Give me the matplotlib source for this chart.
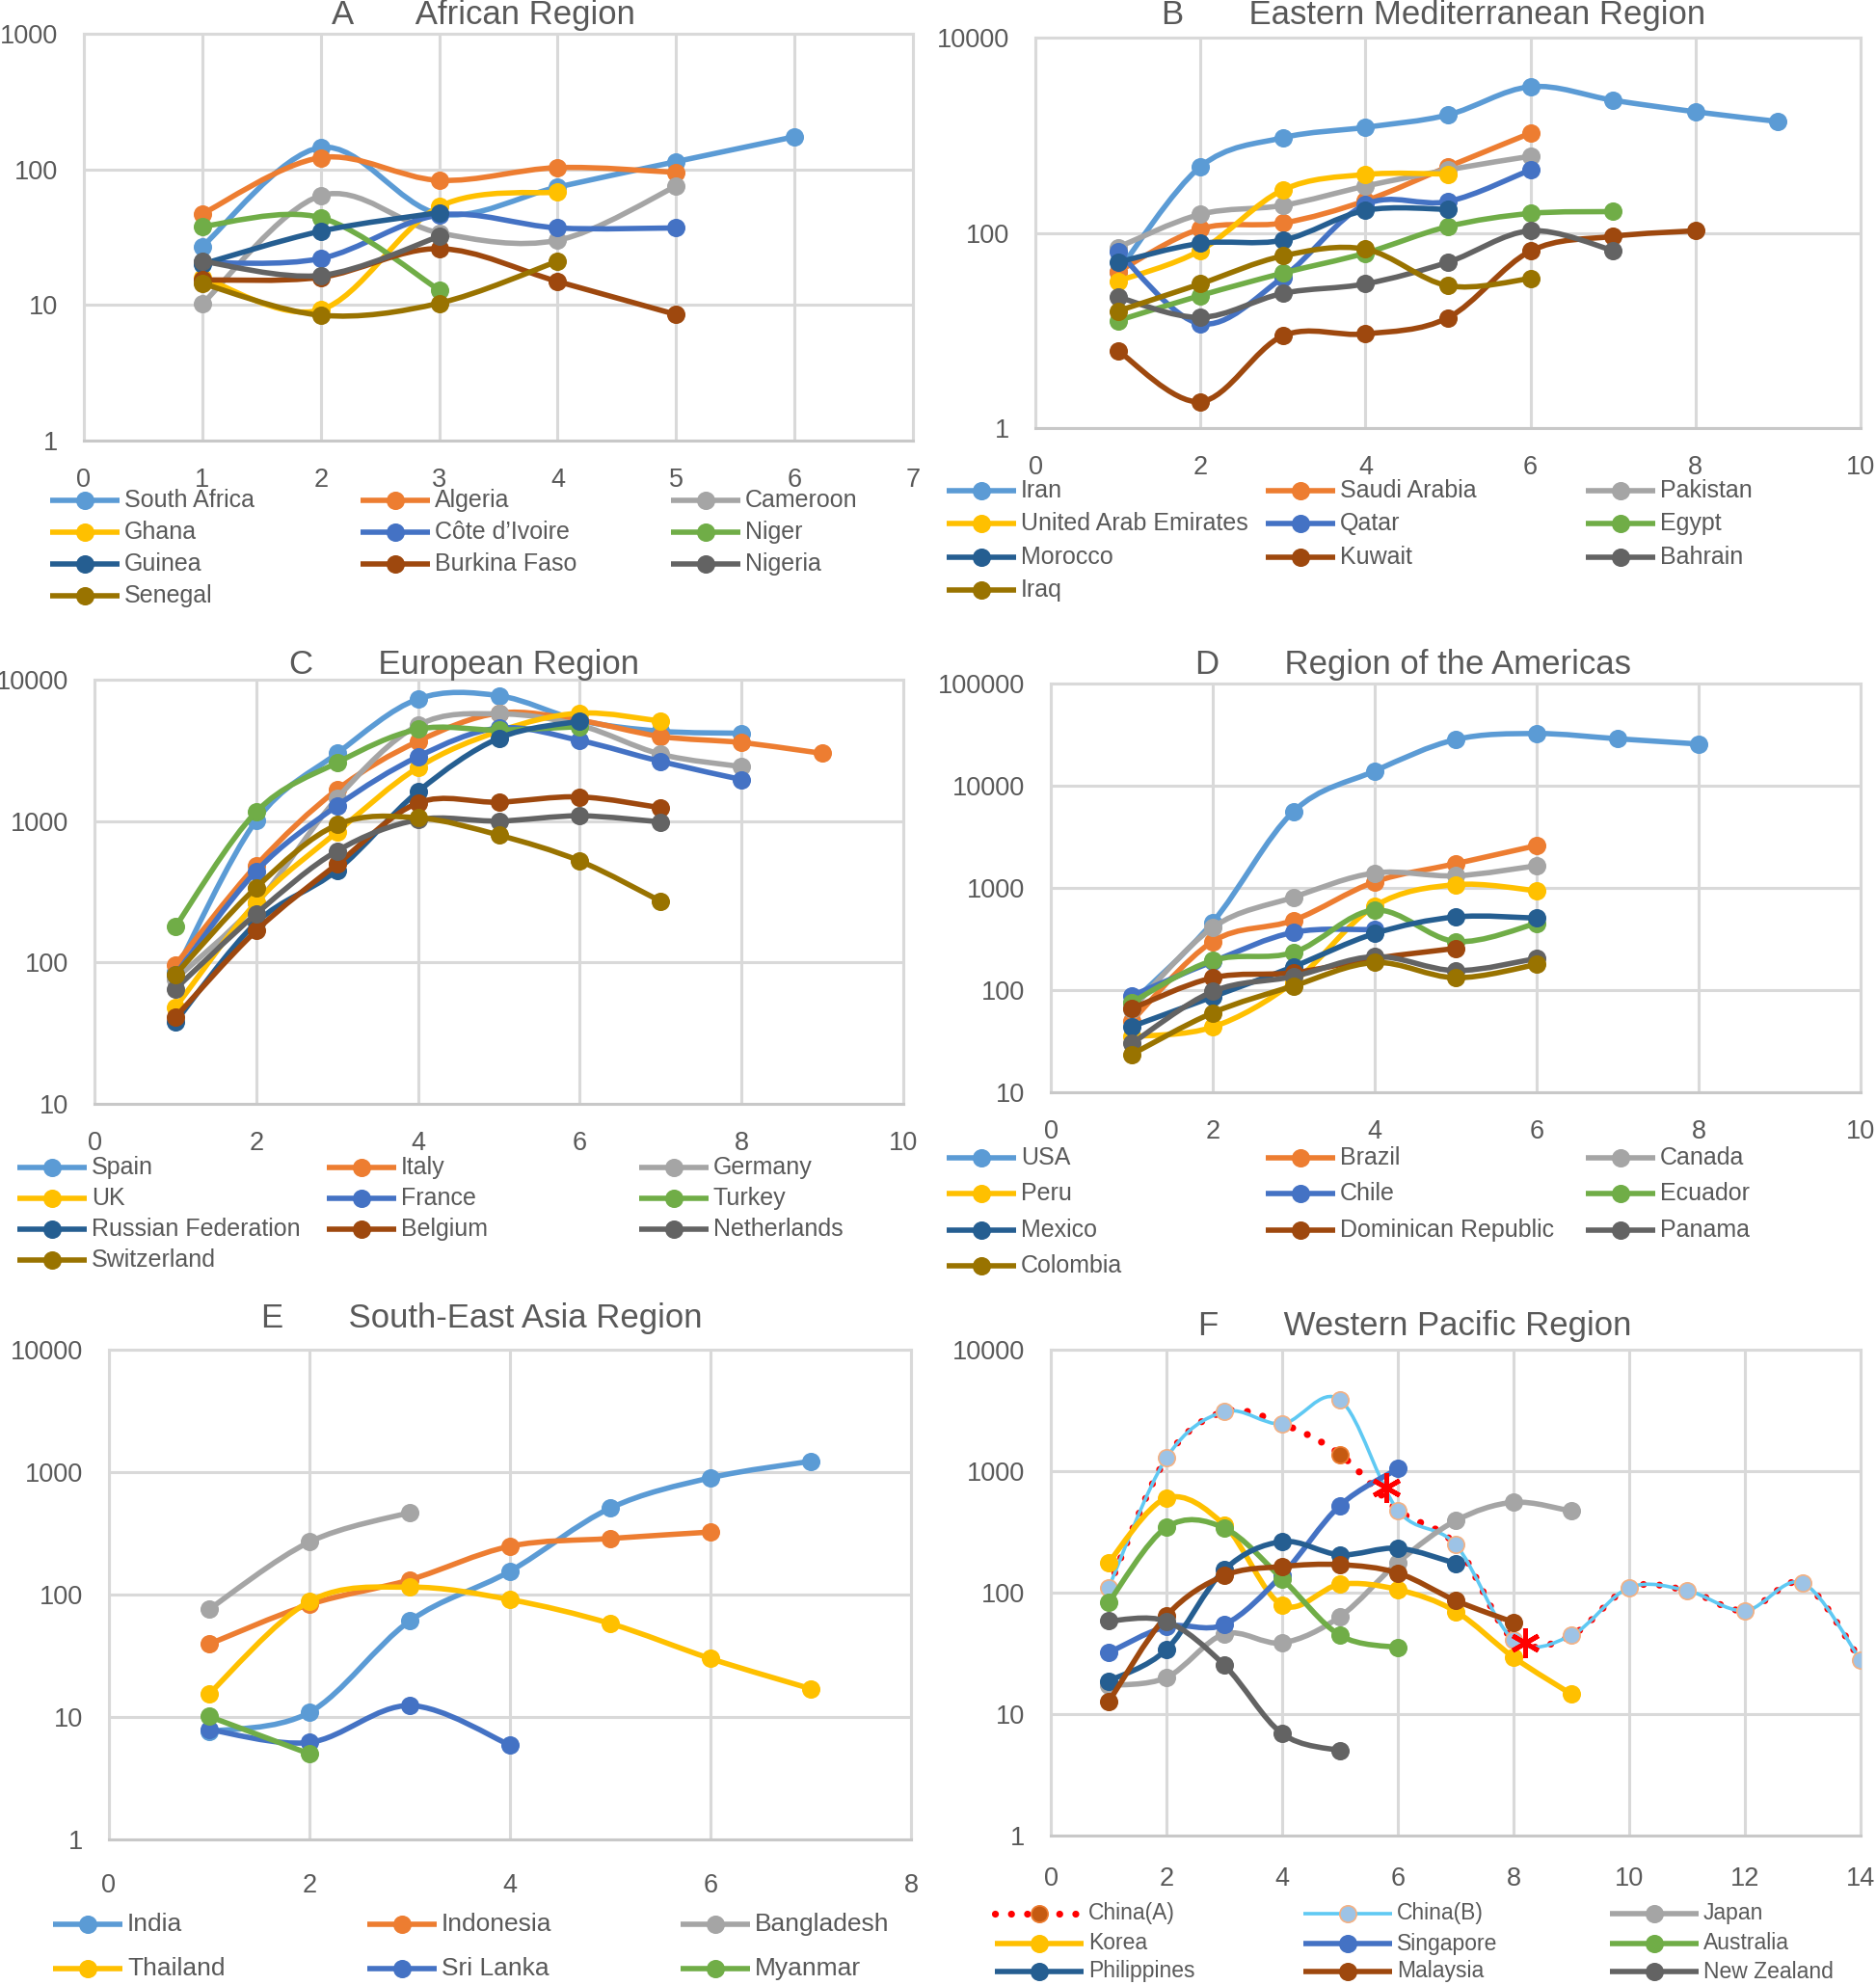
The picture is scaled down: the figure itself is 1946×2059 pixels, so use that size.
"""
Six-panel weekly case curves by WHO region (log scale), Excel-style smooth lines.
"""

import numpy as np
import matplotlib
matplotlib.use("Agg")
import matplotlib.pyplot as plt
from matplotlib import font_manager
from matplotlib.lines import Line2D
from matplotlib.path import Path
from matplotlib.patches import PathPatch

# ── Fonts / colours ─────────────────────────────────────────────────────────────
_names = {f.name for f in font_manager.fontManager.ttflist}
FONT = "Liberation Sans Narrow" if "Liberation Sans Narrow" in _names else "Liberation Sans"
plt.rcParams["font.family"] = [FONT, "DejaVu Sans"]
TXT = "#595959"
GRID = "#D9D9D9"
PAL = ["#5B9BD5", "#ED7D31", "#A5A5A5", "#FFC000", "#4472C4",
       "#70AD47", "#255E91", "#9E480E", "#636363", "#997300"]

# ── Data ────────────────────────────────────────────────────────────────────────
a_labels = ["South Africa", "Algeria", "Cameroon", "Ghana", "Côte d’Ivoire",
            "Niger", "Guinea", "Burkina Faso", "Nigeria", "Senegal"]
a_values = [
    [27, 145, 47, 74, 114, 174],
    [47, 122, 83, 103, 95],
    [10.2, 64, 34, 30, 75],
    [16, 9.2, 53, 68],
    [20.5, 22, 46, 37, 37],
    [38, 44, 12.9],
    [20, 35, 48],
    [15.3, 16, 26, 14.9, 8.5],
    [21, 16.5, 32],
    [14.4, 8.4, 10.3, 21],
]

b_labels = ["Iran", "Saudi Arabia", "Pakistan", "United Arab Emirates", "Qatar",
            "Egypt", "Morocco", "Kuwait", "Bahrain", "Iraq"]
b_values = [
    [40, 475, 943, 1205, 1615, 3140, 2282, 1737, 1382],
    [40, 110, 126, 213, 475, 1051],
    [71, 155, 191, 301, 442, 609],
    [32, 66, 275, 396, 400],
    [64, 11.7, 35, 195, 209, 442],
    [12.6, 22.8, 38.7, 62, 116, 158, 165],
    [50, 78, 84, 170, 174],
    [6.2, 1.86, 8.8, 9.2, 13.5, 65, 92, 105],
    [22, 13.6, 24, 30, 50, 105, 66],
    [15.8, 30, 58, 68, 28.7, 34],
]

c_labels = ["Spain", "Italy", "Germany", "UK", "France", "Turkey",
            "Russian Federation", "Belgium", "Netherlands", "Switzerland"]
c_values = [
    [86, 1007, 3010, 7300, 7700, 5150, 4320, 4180],
    [96, 486, 1667, 3665, 5800, 5150, 3965, 3590, 3010],
    [76, 260, 1450, 4760, 5730, 4760, 2970, 2425],
    [48, 266, 837, 2390, 4320, 5800, 5090],
    [82, 443, 1283, 2855, 4550, 3715, 2640, 1965],
    [179, 1163, 2590, 4460, 4400, 4650],
    [38, 191, 449, 1615, 3860, 5090],
    [41, 168, 496, 1343, 1360, 1483, 1242],
    [65, 221, 615, 1021, 1000, 1089, 986],
    [82, 339, 942, 1054, 795, 522, 271],
]

d_labels = ["USA", "Brazil", "Canada", "Peru", "Chile", "Ecuador",
            "Mexico", "Dominican Republic", "Panama", "Colombia"]
d_values = [
    [75, 462, 5620, 13930, 28300, 32400, 28800, 25600],
    [50, 299, 483, 1146, 1725, 2596],
    [65, 410, 812, 1400, 1313, 1648],
    [35, 43.5, 120, 664, 1075, 938],
    [88, 190, 368, 390],
    [76, 195, 234, 607, 299, 450],
    [44, 86, 170, 358, 520, 506],
    [66, 132, 148, 204, 256],
    [30, 97, 136, 213, 155, 204],
    [23.5, 60, 110, 186, 132, 178],
]

e_labels = ["India", "Indonesia", "Bangladesh", "Thailand", "Sri Lanka", "Myanmar"]
e_values = [
    [7.6, 10.9, 60.8, 155, 508, 899, 1227],
    [39.4, 83, 132, 248, 287, 324],
    [76, 269, 468],
    [15.5, 88, 115, 91, 58, 30, 17],
    [7.9, 6.2, 12.4, 5.9],
    [10.1, 5.0],
]

f_labels = ["China(A)", "China(B)", "Japan", "Korea", "Singapore", "Australia",
            "Philippines", "Malaysia", "New Zealand"]
f_values = [
    [110, 1288, 3090, 2454, 1375, 477, 248, 41, 44.5, 110, 104, 71, 120, 27.8],
    [110, 1288, 3090, 2454, 3865, 477, 248, 41, 44.5, 110, 104, 71, 120, 27.8],
    [17.2, 20, 45.6, 38.6, 63.5, 177, 391, 554, 469],
    [177, 600, 360, 79, 117, 106, 70, 29.4, 14.6],
    [32, 52.5, 54.7, 140, 522, 1047],
    [83, 345, 340, 130, 44.5, 35.3],
    [18.7, 34, 154, 263, 205, 232, 174],
    [12.6, 64.5, 138, 164, 170, 145, 86, 57],
    [58.4, 58, 25.3, 6.9, 5.0],
]
f_star_x = [5.8, 8.2]
f_star_y = [730, 39]

# ── Styles ──────────────────────────────────────────────────────────────────────
LW, MS = 4.0, 12.5


def std_style(col):
    return dict(color=col, lw=LW, ls="-", mfc=col, mec=col, ms=MS, cap="round")


CHINA_A = dict(color="#FF0000", lw=5.2, ls=(0, (0.01, 2.3)), mfc="#C55A11",
               mec="#ED7D31", ms=MS, cap="round")
CHINA_B = dict(color="#5FC9F3", lw=2.6, ls="-", mfc="#9DC3E6", mec="#F4B183",
               ms=MS, cap="round")


# ── Excel-like smooth line (Catmull-Rom as cubic Bezier in x / log10 y) ─────────
def smooth_path(xs, ys):
    lx = np.asarray(xs, float)
    ly = np.log10(np.asarray(ys, float))
    n = len(lx)
    verts = [(lx[0], ly[0])]
    codes = [Path.MOVETO]
    for i in range(n - 1):
        i0, i3 = max(i - 1, 0), min(i + 2, n - 1)
        c1 = (lx[i] + (lx[i + 1] - lx[i0]) / 6, ly[i] + (ly[i + 1] - ly[i0]) / 6)
        c2 = (lx[i + 1] - (lx[i3] - lx[i]) / 6, ly[i + 1] - (ly[i3] - ly[i]) / 6)
        verts += [c1, c2, (lx[i + 1], ly[i + 1])]
        codes += [Path.CURVE4] * 3
    return Path([(vx, 10 ** vy) for vx, vy in verts], codes)


def draw_series(ax, vals, st, z, mark_idx=None):
    xs = np.arange(1, len(vals) + 1)
    if len(vals) > 1:
        ax.add_patch(PathPatch(smooth_path(xs, vals), fill=False,
                               edgecolor=st["color"], lw=st["lw"],
                               linestyle=st["ls"], capstyle=st["cap"],
                               joinstyle="round", zorder=z))
    mx = xs if mark_idx is None else xs[mark_idx]
    my = np.asarray(vals) if mark_idx is None else np.asarray(vals)[mark_idx]
    ax.plot(mx, my, "o", ms=st["ms"], mfc=st["mfc"], mec=st["mec"],
            mew=1.2, zorder=z + 0.5, ls="none")


def setup_axes(fig, box, xmax, xstep, yticks, xpad):
    W, H = fig.get_size_inches() * fig.dpi
    l, r, t, b = box
    ax = fig.add_axes([l / W, 1 - b / H, (r - l) / W, (b - t) / H])
    ax.set_yscale("log")
    ax.set_xlim(0, xmax)
    ax.set_ylim(yticks[0], yticks[-1])
    ax.set_xticks(np.arange(0, xmax + 0.01, xstep))
    ax.set_xticklabels([str(int(v)) for v in np.arange(0, xmax + 0.01, xstep)])
    ax.set_yticks(yticks)
    ax.set_yticklabels([str(v) for v in yticks])
    ax.yaxis.set_minor_locator(matplotlib.ticker.NullLocator())
    ax.grid(True, color=GRID, lw=2.2)
    ax.set_axisbelow(True)
    for s in ax.spines.values():
        s.set_color(GRID)
        s.set_linewidth(2.2)
    ax.spines["bottom"].set_color("#C8C8C8")
    ax.tick_params(length=0, labelsize=19.5, labelcolor=TXT)
    ax.tick_params(axis="x", pad=xpad)
    ax.tick_params(axis="y", pad=19)
    return ax


def legend_grid(fig, labels, styles, cols, rows, hlen, fs):
    W, H = fig.get_size_inches() * fig.dpi
    for i, (lab, st) in enumerate(zip(labels, styles)):
        x0 = cols[i % 3]
        y = 1 - rows[i // 3] / H
        fig.add_artist(Line2D([x0 / W, (x0 + hlen) / W], [y, y],
                              transform=fig.transFigure, color=st["color"],
                              lw=st["lw"], ls=st["ls"],
                              dash_capstyle=st["cap"], solid_capstyle="butt"))
        fig.add_artist(Line2D([(x0 + hlen / 2) / W], [y], transform=fig.transFigure,
                              marker="o", ms=st["ms"], mfc=st["mfc"], mec=st["mec"],
                              mew=1.2, ls="none"))
        fig.text((x0 + hlen + 5) / W, y, lab, fontsize=fs, color=TXT,
                 ha="left", va="center")


def title(fig, xc, yc, letter, name):
    W, H = fig.get_size_inches() * fig.dpi
    fig.text(xc / W, 1 - yc / H, f"{letter}       {name}", fontsize=25,
             color=TXT, ha="center", va="center")


# ── Figure ──────────────────────────────────────────────────────────────────────
fig = plt.figure(figsize=(19.46, 20.59), dpi=100)

panels = [
    ("A", "African Region", a_labels, a_values, (87, 947, 35, 457), 7, 1,
     [1, 10, 100, 1000], (501, 16), [52, 374, 696], [519, 552, 585, 618], 18, 20),
    ("B", "Eastern Mediterranean Region", b_labels, b_values, (1074, 1930, 39, 444), 10, 2,
     [1, 100, 10000], (1487, 16), [982, 1313, 1645], [509, 543, 578, 612], 18, 20),
    ("C", "European Region", c_labels, c_values, (98, 937, 705, 1145), 10, 2,
     [10, 100, 1000, 10000], (482, 689), [18, 339, 663], [1211, 1243, 1275, 1307], 18, 20),
    ("D", "Region of the Americas", d_labels, d_values, (1090, 1930, 709, 1133), 10, 2,
     [10, 100, 1000, 10000, 100000], (1466, 689), [982, 1313, 1645],
     [1201, 1238, 1276, 1313], 18, 20),
    ("E", "South-East Asia Region", e_labels, e_values, (113, 945, 1400, 1908), 8, 2,
     [1, 10, 100, 1000, 10000], (500, 1367), [55, 381, 706], [1996, 2042], 19, 25),
]

for letter, name, labels, values, box, xmax, xstep, yt, tpos, lcols, lrows, lfs, xpad in panels:
    ax = setup_axes(fig, box, xmax, xstep, yt, xpad)
    styles = [std_style(PAL[i]) for i in range(len(labels))]
    for i, (vals, st) in enumerate(zip(values, styles)):
        draw_series(ax, vals, st, z=3 + i)
    title(fig, tpos[0], tpos[1], letter, name)
    legend_grid(fig, labels, styles, lcols, lrows, 72, lfs)

# Panel F: Western Pacific
axf = setup_axes(fig, (1090, 1930, 1400, 1904), 14, 2, [1, 10, 100, 1000, 10000], 23)
f_styles = [CHINA_A, CHINA_B] + [std_style(PAL[i]) for i in range(2, 9)]
draw_series(axf, f_values[0], CHINA_A, z=3, mark_idx=[4])
draw_series(axf, f_values[1], CHINA_B, z=4)
for i in range(2, len(f_values)):
    draw_series(axf, f_values[i], f_styles[i], z=3 + i)
axf.plot(f_star_x, f_star_y, ls="none", marker=(6, 2, 0), ms=22, mec="#FF0000",
         mew=3.5, zorder=20)
title(fig, 1468, 1376, "F", "Western Pacific Region")
legend_grid(fig, f_labels, f_styles, [1032, 1352, 1670], [1985, 2016, 2045], 92, 16.5)

fig.savefig("out.png", dpi=100)
